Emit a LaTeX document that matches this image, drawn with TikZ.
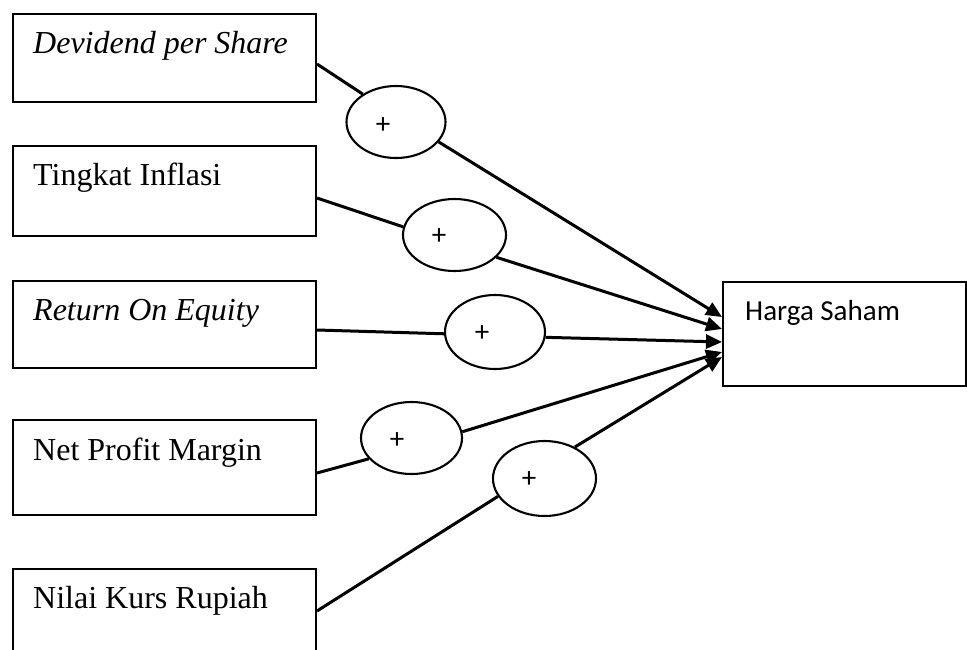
\documentclass[tikz,border=0pt]{standalone}
\usepackage{fontspec}
\setmainfont{Liberation Serif}
\newfontfamily\calibrifont{Carlito}
\usetikzlibrary{arrows.meta,shapes.geometric}
\begin{document}
\begin{tikzpicture}[x=1pt,y=-1pt,
  box/.style={draw, line width=2pt, rectangle, inner sep=0pt, minimum width=303pt},
  oval/.style={draw, ellipse, line width=2.1pt, inner sep=0pt, minimum width=100pt, minimum height=72pt},
  lbl/.style={anchor=base west, inner sep=0pt, font=\fontsize{32}{36}\selectfont},
  sanslbl/.style={anchor=base west, inner sep=0pt, font=\calibrifont\fontsize{29}{33}\selectfont},
  plus/.style={inner sep=0pt, font=\calibrifont\fontsize{29}{32}\selectfont},
  link/.style={line width=3pt},
  arr/.style={link, -{Triangle[length=16pt,width=14pt]}}]
\clip (0,0) rectangle (967,649);
\fill[white] (0,0) rectangle (967,649);

% left boxes
\node[box, minimum height=88pt]  (b1) at (164.5,58) {};
\node[box, minimum height=90pt]  (b2) at (164.5,191) {};
\node[box, minimum height=87pt]  (b3) at (164.5,324.5) {};
\node[box, minimum height=95pt]  (b4) at (164.5,467.5) {};
\node[box, minimum height=111pt] (b5) at (164.5,624.5) {};

\node[lbl] (t1) at (33,53)  {\textit{Devidend per Share}};
\node[lbl] (t2) at (33,185) {Tingkat Inflasi};
\node[lbl] (t3) at (33,320) {\textit{Return On Equity}};
\node[lbl] (t4) at (33,460) {Net Profit Margin};
\node[lbl] (t5) at (33,608) {Nilai Kurs Rupiah};

% target box
\node[box, minimum width=243pt, minimum height=104pt] (h) at (844.5,334) {};
\node[sanslbl] (th) at (745,320) {Harga Saham};

% ellipses
\node[oval, minimum width=99pt, minimum height=72pt]  (e1) at (396,122) {};
\node[oval, minimum width=103pt, minimum height=72pt] (e2) at (454.5,235) {};
\node[oval, minimum width=100pt, minimum height=74pt] (e3) at (495,332) {};
\node[oval, minimum width=101pt, minimum height=72pt] (e4) at (411.5,438) {};
\node[oval, minimum width=103pt, minimum height=75pt] (e5) at (544.5,478.5) {};

\node[plus] (p1) at (383,126) {+};
\node[plus] (p2) at (439,237) {+};
\node[plus] (p3) at (482,334) {+};
\node[plus] (p4) at (397,441) {+};
\node[plus] (p5) at (529,480) {+};

% connectors
\draw[link] ([yshift=-6pt]b1.east) -- (e1.140);
\draw[link] ([yshift=-7pt]b2.east) -- (e2.171);
\draw[link] ([yshift=-5.5pt]b3.east) -- (e3.182);
\draw[link] ([yshift=-5.5pt]b4.east) -- (e4.206);
\draw[link] ([yshift=13.5pt]b5.east) -- (e5.201);

\draw[arr] (e1.-25) -- ([yshift=-36pt]h.north west);
\draw[arr] (e2.-28) -- ([yshift=-48pt]h.north west);
\draw[arr] (e3.-6)  -- ([yshift=-61pt]h.north west);
\draw[arr] (e4.7)   -- ([yshift=-71pt]h.north west);
\draw[arr] (e5.46)  -- ([yshift=-76pt]h.north west);
\end{tikzpicture}
\end{document}
